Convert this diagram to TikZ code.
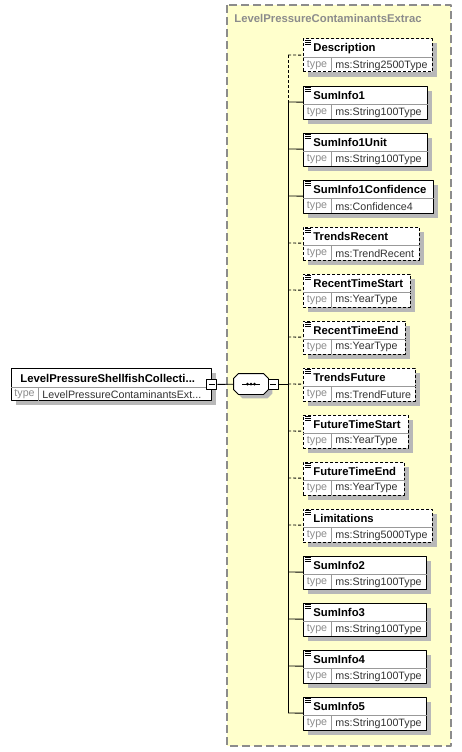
\documentclass[tikz,border=0pt]{standalone}
\usepackage{fontspec}
\setmainfont{Liberation Sans}
\definecolor{grpfill}{HTML}{FFFFCC}
\definecolor{grpline}{HTML}{8C8C8C}
\def\octa#1{([xshift=5pt]#1.north west) -- ([xshift=-5pt]#1.north east) -- ([yshift=-5pt]#1.north east)
  -- ([yshift=5pt]#1.south east) -- ([xshift=-5pt]#1.south east) -- ([xshift=5pt]#1.south west)
  -- ([yshift=5pt]#1.south west) -- ([yshift=-5pt]#1.north west) -- cycle}
\begin{document}
\begin{tikzpicture}[x=1pt,y=-1pt,line width=0.9pt,line join=round,
  box/.style={draw,fill=white,anchor=north west,inner sep=0pt,minimum height=33pt},
  shd/.style={fill=black!28},
  opt/.style={dash pattern=on 3pt off 2pt},
  req/.style={solid},
  sep/.style={draw=black!40},
  nm/.style={anchor=west,inner sep=0pt,font=\fontsize{11.3}{13}\selectfont\bfseries},
  tl/.style={anchor=west,inner sep=0pt,text=black!45,font=\fontsize{10.7}{12}\selectfont},
  tv/.style={anchor=west,inner sep=0pt,text=black!80,font=\fontsize{10.7}{12}\selectfont},
  pm/.style={draw,fill=white,minimum size=10pt,inner sep=0pt},
  comp/.style={minimum width=34pt,minimum height=20pt,inner sep=0pt}]
  \useasboundingbox (0,0) rectangle (462,752);
  % group box
  \draw[grpline,fill=grpfill,line width=1.3pt,dash pattern=on 8pt off 4pt] (227,5) rectangle (451,746);
  \node[nm,text=grpline] (ttl) at (234,18) {LevelPressureContaminantsExtrac};
  % root element
  \fill[shd] (16,373) rectangle ++(200,32);
  \node[box,minimum width=200pt,minimum height=32pt] (root) at (11,368) {};
  \draw[sep] ([yshift=-19pt]root.north west) -- ([yshift=-19pt]root.north east);
  \draw[sep] ([xshift=27pt,yshift=-19pt]root.north west) -- ([xshift=27pt]root.south west);
  \node[nm] (rootn) at ([xshift=9pt,yshift=-10pt]root.north west) {LevelPressureShellfishCollecti...};
  \node[tl] (rootl) at ([xshift=3pt,yshift=6.5pt]root.south west) {type};
  \node[tv] (rootv) at ([xshift=31pt,yshift=6.5pt]root.south west) {LevelPressureContaminantsExt...};
  \node[pm] (rm) at (root.east) {};
  \draw ([xshift=-3pt]rm.center) -- ([xshift=3pt]rm.center);
  % sequence
  \node[comp] (seqs) at (255,388) {};
  \node[comp] (seq) at (251,384) {};
  \fill[shd] \octa{seqs};
  \draw[fill=white] \octa{seq};
  \draw ([xshift=-9pt]seq.center) -- ([xshift=9pt]seq.center);
  \foreach \d in {-3.5,0,3.5} \fill ([xshift=\d pt]seq.center) circle (1.5pt);
  \node[pm] (sm) at (273,384) {};
  \draw ([xshift=-3pt]sm.center) -- ([xshift=3pt]sm.center);
  \coordinate (jn) at (288,384);
  \draw (rm) -- (seq);
  \draw (sm) -- (jn);
  % children
  \foreach \en/\et/\bw/\st [count=\i] in {
    Description/ms:String2500Type/129/opt,
    SumInfo1/ms:String100Type/124/req,
    SumInfo1Unit/ms:String100Type/124/req,
    SumInfo1Confidence/ms:Confidence4/130/req,
    TrendsRecent/ms:TrendRecent/116/opt,
    RecentTimeStart/ms:YearType/107/opt,
    RecentTimeEnd/ms:YearType/102/opt,
    TrendsFuture/ms:TrendFuture/112/opt,
    FutureTimeStart/ms:YearType/105/opt,
    FutureTimeEnd/ms:YearType/101/opt,
    Limitations/ms:String5000Type/129/opt,
    SumInfo2/ms:String100Type/123/req,
    SumInfo3/ms:String100Type/123/req,
    SumInfo4/ms:String100Type/123/req,
    SumInfo5/ms:String100Type/123/req} {
    \pgfmathsetmacro\yt{38.5+47*(\i-1)}
    \fill[shd] (308,\yt+5) rectangle ++(\bw,33);
    \node[box,\st,minimum width=\bw pt] (e\i) at (303,\yt) {};
    \draw[sep,solid] ([yshift=-19pt]e\i.north west) -- ([yshift=-19pt]e\i.north east);
    \draw[sep,solid] ([xshift=28.5pt,yshift=-19pt]e\i.north west) -- ([xshift=28.5pt]e\i.south west);
    \foreach \k in {0,2,4}
      \draw[line width=0.7pt] ([xshift=2pt,yshift=-2pt-\k pt]e\i.north west) -- ++(6pt,0);
    \node[nm] (n\i) at ([xshift=10pt,yshift=-10pt]e\i.north west) {\en};
    \node[tl] (l\i) at ([xshift=3.5pt,yshift=7pt]e\i.south west) {type};
    \node[tv] (v\i) at ([xshift=32pt,yshift=7pt]e\i.south west) {\et};
    \coordinate (b\i) at (288,\yt+16.5);
    \draw[\st] (b\i) -- (e\i);
  }
  \draw[opt] (b1) -- (b2);
  \draw (b2) -- (b15);
\end{tikzpicture}
\end{document}
